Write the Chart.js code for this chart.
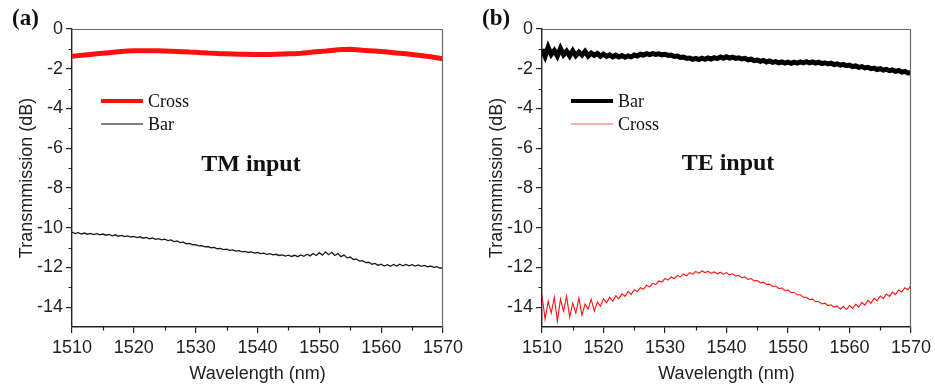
<!DOCTYPE html>
<html>
<head>
<meta charset="utf-8">
<script src="https://cdn.jsdelivr.net/npm/chart.js@4.4.1/dist/chart.umd.min.js"></script>
<style>
  html, body { margin: 0; padding: 0; background: #fff; }
  .panel { position: absolute; top: 0; height: 385px; }
  #wrapA { left: 0; width: 470px; }
  #wrapB { left: 470px; width: 465px; }
</style>
</head>
<body>
<div class="panel" id="wrapA"><canvas id="chartA"></canvas></div>
<div class="panel" id="wrapB"><canvas id="chartB"></canvas></div>
<script>
// wavelength grids (nm)
const wl1 = [
  1510,1511,1512,1513,1514,1515,1516,1517,1518,1519,
  1520,1521,1522,1523,1524,1525,1526,1527,1528,1529,
  1530,1531,1532,1533,1534,1535,1536,1537,1538,1539,
  1540,1541,1542,1543,1544,1545,1546,1547,1548,1549,
  1550,1551,1552,1553,1554,1555,1556,1557,1558,1559,
  1560,1561,1562,1563,1564,1565,1566,1567,1568,1569,
  1570
];
const wl05 = [
  1510,1510.5,1511,1511.5,1512,1512.5,1513,1513.5,1514,1514.5,
  1515,1515.5,1516,1516.5,1517,1517.5,1518,1518.5,1519,1519.5,
  1520,1520.5,1521,1521.5,1522,1522.5,1523,1523.5,1524,1524.5,
  1525,1525.5,1526,1526.5,1527,1527.5,1528,1528.5,1529,1529.5,
  1530,1530.5,1531,1531.5,1532,1532.5,1533,1533.5,1534,1534.5,
  1535,1535.5,1536,1536.5,1537,1537.5,1538,1538.5,1539,1539.5,
  1540,1540.5,1541,1541.5,1542,1542.5,1543,1543.5,1544,1544.5,
  1545,1545.5,1546,1546.5,1547,1547.5,1548,1548.5,1549,1549.5,
  1550,1550.5,1551,1551.5,1552,1552.5,1553,1553.5,1554,1554.5,
  1555,1555.5,1556,1556.5,1557,1557.5,1558,1558.5,1559,1559.5,
  1560,1560.5,1561,1561.5,1562,1562.5,1563,1563.5,1564,1564.5,
  1565,1565.5,1566,1566.5,1567,1567.5,1568,1568.5,1569,1569.5,
  1570
];

// (a) TM input, dB
const tmCross = [
  -1.37,-1.34,-1.31,-1.28,-1.25,-1.22,-1.19,-1.16,-1.13,-1.11,
  -1.10,-1.09,-1.09,-1.10,-1.10,-1.11,-1.12,-1.13,-1.14,-1.16,
  -1.17,-1.19,-1.21,-1.22,-1.24,-1.25,-1.26,-1.27,-1.27,-1.28,
  -1.28,-1.28,-1.28,-1.27,-1.26,-1.25,-1.24,-1.22,-1.19,-1.16,
  -1.13,-1.11,-1.08,-1.05,-1.03,-1.02,-1.04,-1.07,-1.09,-1.11,
  -1.13,-1.16,-1.19,-1.22,-1.25,-1.28,-1.32,-1.36,-1.40,-1.45,
  -1.50
];
const tmBar = [
  -10.22,-10.30,-10.25,-10.32,-10.27,-10.33,-10.29,-10.35,-10.30,-10.36,
  -10.32,-10.38,-10.34,-10.41,-10.36,-10.43,-10.39,-10.45,-10.41,-10.47,
  -10.44,-10.50,-10.46,-10.53,-10.49,-10.56,-10.52,-10.59,-10.55,-10.61,
  -10.58,-10.65,-10.62,-10.70,-10.67,-10.75,-10.73,-10.81,-10.79,-10.87,
  -10.85,-10.92,-10.90,-10.97,-10.95,-11.01,-10.99,-11.06,-11.04,-11.10,
  -11.08,-11.14,-11.12,-11.18,-11.16,-11.22,-11.19,-11.25,-11.22,-11.28,
  -11.25,-11.31,-11.28,-11.34,-11.31,-11.37,-11.34,-11.40,-11.37,-11.43,
  -11.38,-11.45,-11.39,-11.46,-11.37,-11.44,-11.34,-11.42,-11.30,-11.40,
  -11.26,-11.38,-11.22,-11.36,-11.24,-11.40,-11.30,-11.46,-11.38,-11.52,
  -11.48,-11.60,-11.58,-11.68,-11.66,-11.76,-11.74,-11.84,-11.80,-11.90,
  -11.84,-11.93,-11.86,-11.94,-11.85,-11.93,-11.84,-11.92,-11.85,-11.92,
  -11.86,-11.93,-11.88,-11.95,-11.90,-11.97,-11.93,-12.00,-11.96,-12.03,
  -12.04
];

// (b) TE input, dB
const teBar = [
  -1.02,-1.38,-0.92,-1.28,-1.08,-1.36,-0.98,-1.30,-1.12,-1.36,
  -1.10,-1.34,-1.16,-1.31,-1.13,-1.36,-1.21,-1.33,-1.23,-1.37,
  -1.26,-1.38,-1.30,-1.40,-1.32,-1.41,-1.34,-1.42,-1.35,-1.40,
  -1.31,-1.36,-1.27,-1.31,-1.24,-1.29,-1.24,-1.28,-1.25,-1.30,
  -1.27,-1.33,-1.31,-1.38,-1.36,-1.43,-1.41,-1.48,-1.46,-1.53,
  -1.48,-1.54,-1.47,-1.53,-1.46,-1.51,-1.44,-1.49,-1.41,-1.47,
  -1.40,-1.46,-1.42,-1.48,-1.45,-1.51,-1.48,-1.55,-1.52,-1.59,
  -1.56,-1.63,-1.58,-1.66,-1.61,-1.68,-1.64,-1.70,-1.66,-1.72,
  -1.67,-1.73,-1.67,-1.72,-1.66,-1.71,-1.65,-1.71,-1.66,-1.72,
  -1.67,-1.74,-1.70,-1.76,-1.72,-1.79,-1.75,-1.82,-1.78,-1.85,
  -1.82,-1.89,-1.86,-1.93,-1.89,-1.96,-1.93,-2.00,-1.97,-2.04,
  -2.00,-2.07,-2.03,-2.10,-2.06,-2.13,-2.09,-2.17,-2.13,-2.21,
  -2.20
];
const teCross = [
  -13.40,-14.60,-13.70,-14.30,-13.50,-14.70,-13.60,-14.20,-13.45,-14.50,
  -13.80,-14.30,-13.55,-14.40,-13.85,-14.10,-13.60,-14.20,-13.75,-13.95,
  -13.58,-13.78,-13.50,-13.70,-13.42,-13.58,-13.32,-13.46,-13.22,-13.36,
  -13.12,-13.22,-13.02,-13.10,-12.90,-12.98,-12.80,-12.86,-12.68,-12.74,
  -12.56,-12.64,-12.48,-12.56,-12.40,-12.48,-12.33,-12.42,-12.26,-12.34,
  -12.20,-12.30,-12.18,-12.26,-12.20,-12.30,-12.22,-12.32,-12.24,-12.34,
  -12.26,-12.38,-12.32,-12.44,-12.40,-12.52,-12.48,-12.60,-12.56,-12.68,
  -12.66,-12.78,-12.74,-12.86,-12.84,-12.96,-12.94,-13.06,-13.04,-13.16,
  -13.14,-13.26,-13.26,-13.38,-13.38,-13.50,-13.50,-13.62,-13.60,-13.72,
  -13.72,-13.84,-13.80,-13.92,-13.88,-14.00,-13.94,-14.10,-13.96,-14.12,
  -13.92,-14.06,-13.86,-14.00,-13.76,-13.90,-13.66,-13.80,-13.56,-13.68,
  -13.44,-13.56,-13.34,-13.46,-13.24,-13.36,-13.14,-13.24,-13.02,-13.12,
  -12.92
];

// ticks
const xMajor = [1510, 1520, 1530, 1540, 1550, 1560, 1570];
const xMinor = [1515, 1525, 1535, 1545, 1555, 1565];
const yMajor = [0, -2, -4, -6, -8, -10, -12, -14];
const yMinor = [-1, -3, -5, -7, -9, -11, -13];

const SANS = "'Liberation Sans', Arial, sans-serif";
const SERIF = "'Liberation Serif', 'Times New Roman', serif";
const RED = "#ff1010";

function pts(xs, ys) {
  return xs.map((x, i) => ({ x: x, y: ys[i] }));
}

// frame, minor ticks, panel letter, legend, inline title
const panelPlugin = {
  id: "panel",
  afterDraw(chart, args, opts) {
    const { ctx, chartArea: a, scales } = chart;
    ctx.save();
    // top and right frame lines
    ctx.strokeStyle = "#6a6a6a";
    ctx.lineWidth = 1.2;
    ctx.beginPath();
    ctx.moveTo(a.left, a.top + 0.5);
    ctx.lineTo(a.right - 0.5, a.top + 0.5);
    ctx.lineTo(a.right - 0.5, a.bottom);
    ctx.stroke();

    // minor ticks
    ctx.strokeStyle = "#222";
    ctx.lineWidth = 1.2;
    ctx.beginPath();
    xMinor.forEach(v => {
      const px = Math.round(scales.x.getPixelForValue(v)) + 0.5;
      ctx.moveTo(px, a.bottom);
      ctx.lineTo(px, a.bottom + 3.5);
    });
    yMinor.forEach(v => {
      const py = Math.round(scales.y.getPixelForValue(v)) + 0.5;
      ctx.moveTo(a.left, py);
      ctx.lineTo(a.left - 3.5, py);
    });
    ctx.stroke();

    // panel letter
    ctx.fillStyle = "#111";
    ctx.font = "bold 23px " + SERIF;
    ctx.textAlign = "left";
    ctx.textBaseline = "alphabetic";
    ctx.fillText(opts.letter, 12, 25);

    // legend
    ctx.font = "18px " + SERIF;
    chart.data.datasets.forEach((ds, i) => {
      const y = 101 + i * 23;
      ctx.strokeStyle = ds.legendColor || ds.borderColor;
      ctx.lineWidth = ds.legendWidth;
      ctx.beginPath();
      ctx.moveTo(a.left + 29, y);
      ctx.lineTo(a.left + 71, y);
      ctx.stroke();
      ctx.fillStyle = "#111";
      ctx.fillText(ds.label, a.left + 76, y + 6);
    });

    // inline title
    ctx.font = "bold 24px " + SERIF;
    ctx.textAlign = "center";
    ctx.fillText(opts.title, opts.titleX, opts.titleY);
    ctx.restore();
  }
};

function makeChart(canvasId, datasets, panel, padRight) {
  return new Chart(document.getElementById(canvasId), {
    type: "line",
    data: { datasets: datasets },
    options: {
      responsive: true,
      maintainAspectRatio: false,
      animation: false,
      layout: { padding: { top: 29, right: padRight, left: 0, bottom: 0 } },
      elements: { point: { radius: 0 }, line: { tension: 0 } },
      plugins: {
        legend: { display: false },
        tooltip: { enabled: false },
        panel: panel
      },
      scales: {
        x: {
          type: "linear",
          min: 1510,
          max: 1570,
          afterBuildTicks: s => { s.ticks = xMajor.map(v => ({ value: v })); },
          afterFit: s => { s.height = 58; },
          ticks: {
            color: "#222",
            padding: 4,
            maxRotation: 0,
            font: { family: SANS, size: 18 },
            callback: v => String(v)
          },
          grid: { drawOnChartArea: false, tickLength: 6, color: "#222", lineWidth: 1.2 },
          border: { color: "#222", width: 1.4 },
          title: {
            display: true,
            text: "Wavelength (nm)",
            color: "#222",
            padding: { top: 0, bottom: 0 },
            font: { family: SANS, size: 18 }
          }
        },
        y: {
          type: "linear",
          min: -15,
          max: 0,
          afterBuildTicks: s => { s.ticks = yMajor.map(v => ({ value: v })); },
          afterFit: s => { s.width = 72; },
          ticks: {
            color: "#222",
            padding: 3,
            font: { family: SANS, size: 18 },
            callback: v => String(v)
          },
          grid: { drawOnChartArea: false, tickLength: 6, color: "#222", lineWidth: 1.2 },
          border: { color: "#222", width: 1.4 },
          title: {
            display: true,
            text: "Transmmission (dB)",
            color: "#222",
            padding: { top: 16, bottom: 0 },
            font: { family: SANS, size: 18 }
          }
        }
      }
    },
    plugins: [panelPlugin]
  });
}

makeChart("chartA", [
  {
    label: "Cross",
    data: pts(wl1, tmCross),
    borderColor: RED,
    borderWidth: 5,
    legendWidth: 4
  },
  {
    label: "Bar",
    data: pts(wl05, tmBar),
    borderColor: "#1a1a1a",
    borderWidth: 1.3,
    legendColor: "#555",
    legendWidth: 1.3
  }
], { letter: "(a)", title: "TM input", titleX: 251, titleY: 171 }, 27);

makeChart("chartB", [
  {
    label: "Bar",
    data: pts(wl05, teBar),
    borderColor: "#000",
    borderWidth: 5,
    legendWidth: 4
  },
  {
    label: "Cross",
    data: pts(wl05, teCross),
    borderColor: RED,
    borderWidth: 1.1,
    legendColor: "#f06060",
    legendWidth: 1.2
  }
], { letter: "(b)", title: "TE input", titleX: 258, titleY: 170 }, 22);
</script>
</body>
</html>
